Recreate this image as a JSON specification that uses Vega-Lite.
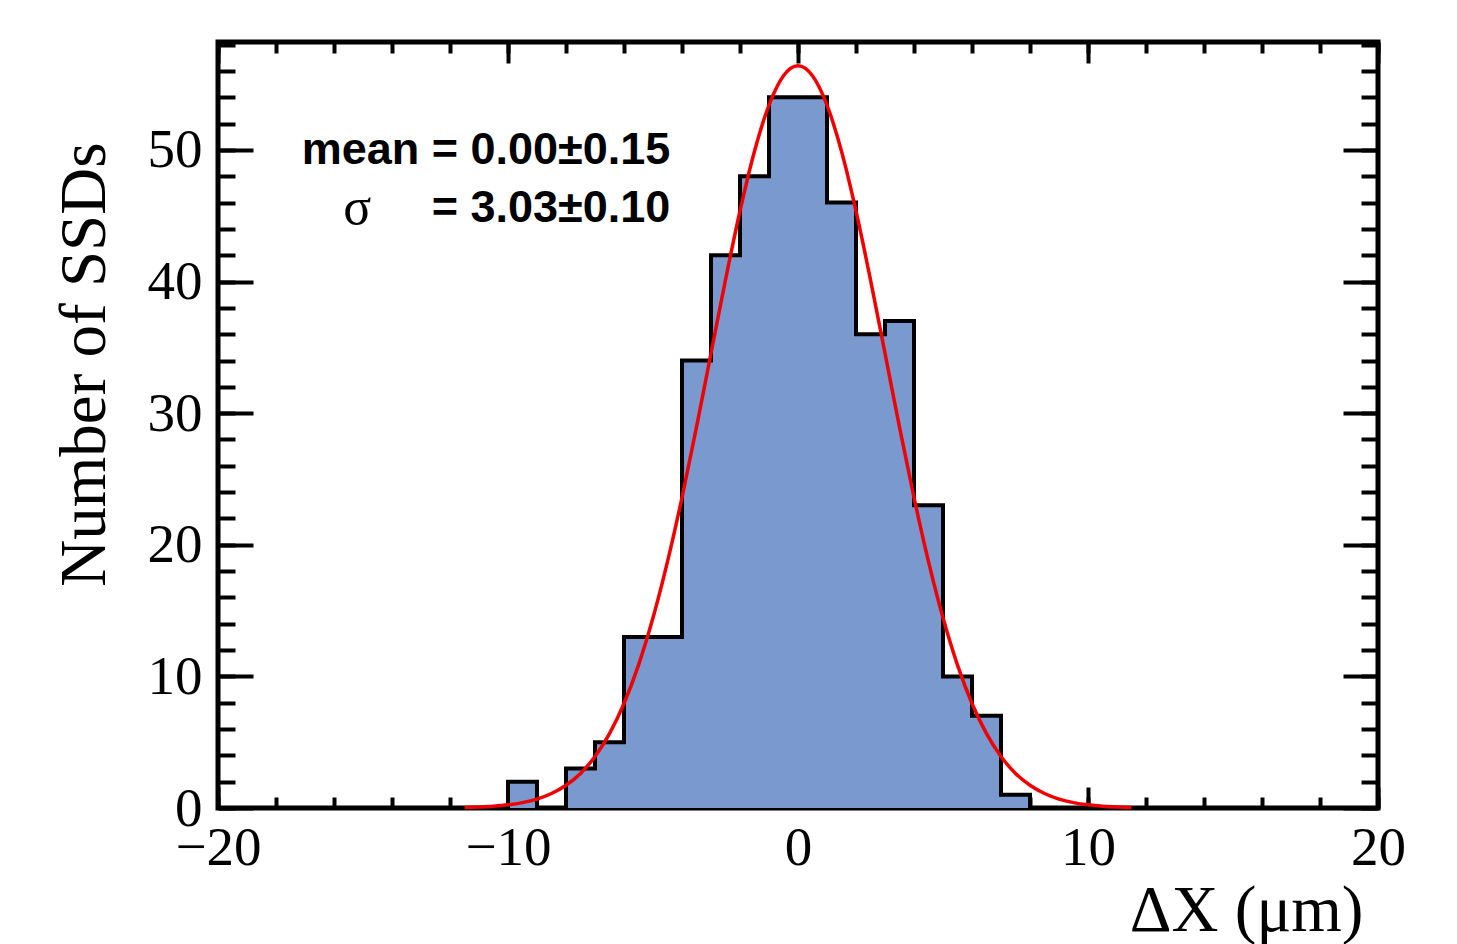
{
  "$schema": "https://vega.github.io/schema/vega-lite/v6.json",
  "width": 1160,
  "height": 766,
  "autosize": {"type": "none"},
  "padding": {"left": 218, "top": 42, "right": 79, "bottom": 136},
  "background": "white",
  "config": {
    "axis": {"grid": false, "domain": false, "tickColor": "black", "labelColor": "black", "titleColor": "black", "zindex": 1},
    "view": {"stroke": "black", "strokeWidth": 5}
  },
  "datasets": {
    "hist": [
      {"x": -20, "count": 0}, {"x": -19, "count": 0}, {"x": -18, "count": 0}, {"x": -17, "count": 0},
      {"x": -16, "count": 0}, {"x": -15, "count": 0}, {"x": -14, "count": 0}, {"x": -13, "count": 0},
      {"x": -12, "count": 0}, {"x": -11, "count": 0}, {"x": -10, "count": 2}, {"x": -9, "count": 0},
      {"x": -8, "count": 3}, {"x": -7, "count": 5}, {"x": -6, "count": 13}, {"x": -5, "count": 13},
      {"x": -4, "count": 34}, {"x": -3, "count": 42}, {"x": -2, "count": 48}, {"x": -1, "count": 54},
      {"x": 0, "count": 54}, {"x": 1, "count": 46}, {"x": 2, "count": 36}, {"x": 3, "count": 37},
      {"x": 4, "count": 23}, {"x": 5, "count": 10}, {"x": 6, "count": 7}, {"x": 7, "count": 1},
      {"x": 8, "count": 0}, {"x": 9, "count": 0}, {"x": 10, "count": 0}, {"x": 11, "count": 0},
      {"x": 12, "count": 0}, {"x": 13, "count": 0}, {"x": 14, "count": 0}, {"x": 15, "count": 0},
      {"x": 16, "count": 0}, {"x": 17, "count": 0}, {"x": 18, "count": 0}, {"x": 19, "count": 0},
      {"x": 20, "count": 0}
    ],
    "curve": [
      {"x": -11.5, "y": 0.04}, {"x": -11, "y": 0.08}, {"x": -10.5, "y": 0.14}, {"x": -10, "y": 0.24},
      {"x": -9.5, "y": 0.41}, {"x": -9, "y": 0.68}, {"x": -8.5, "y": 1.1}, {"x": -8, "y": 1.73},
      {"x": -7.5, "y": 2.63}, {"x": -7, "y": 3.91}, {"x": -6.5, "y": 5.65}, {"x": -6, "y": 7.94},
      {"x": -5.5, "y": 10.86}, {"x": -5, "y": 14.45}, {"x": -4.5, "y": 18.72}, {"x": -4, "y": 23.59},
      {"x": -3.5, "y": 28.94}, {"x": -3, "y": 34.55}, {"x": -2.5, "y": 40.13}, {"x": -2, "y": 45.36},
      {"x": -1.5, "y": 49.9}, {"x": -1, "y": 53.41}, {"x": -0.5, "y": 55.64}, {"x": 0, "y": 56.4},
      {"x": 0.5, "y": 55.64}, {"x": 1, "y": 53.41}, {"x": 1.5, "y": 49.9}, {"x": 2, "y": 45.36},
      {"x": 2.5, "y": 40.13}, {"x": 3, "y": 34.55}, {"x": 3.5, "y": 28.94}, {"x": 4, "y": 23.59},
      {"x": 4.5, "y": 18.72}, {"x": 5, "y": 14.45}, {"x": 5.5, "y": 10.86}, {"x": 6, "y": 7.94},
      {"x": 6.5, "y": 5.65}, {"x": 7, "y": 3.91}, {"x": 7.5, "y": 2.63}, {"x": 8, "y": 1.73},
      {"x": 8.5, "y": 1.1}, {"x": 9, "y": 0.68}, {"x": 9.5, "y": 0.41}, {"x": 10, "y": 0.24},
      {"x": 10.5, "y": 0.14}, {"x": 11, "y": 0.08}, {"x": 11.5, "y": 0.04}
    ],
    "stats": [
      {"x": -4.4, "y": 50.0, "label": "mean = 0.00±0.15"},
      {"x": -4.4, "y": 45.6, "label": "= 3.03±0.10"}
    ],
    "sigma": [
      {"x": -15.2, "y": 45.6, "label": "σ"}
    ]
  },
  "resolve": {"axis": {"x": "independent", "y": "independent"}},
  "layer": [
    {
      "data": {"name": "hist"},
      "mark": {"type": "area", "interpolate": "step-after", "color": "#7a99cf", "opacity": 1},
      "encoding": {
        "x": {"field": "x", "type": "quantitative",
          "scale": {"domain": [-20, 20], "nice": false, "zero": false},
          "axis": {"orient": "bottom", "values": [-20, -10, 0, 10, 20], "ticks": false,
            "labelFont": "Liberation Serif", "labelFontSize": 55, "labelPadding": 13,
            "labelFlush": false, "labelOverlap": false,
            "title": "ΔX (μm)", "titleFont": "Liberation Serif", "titleFontSize": 65, "titleFontWeight": "normal",
            "titleAlign": "right", "titleBaseline": "alphabetic", "titleAnchor": "end", "titleX": 1145, "titleY": 122}},
        "y": {"field": "count", "type": "quantitative",
          "scale": {"domain": [0, 58.2], "nice": false, "zero": true},
          "axis": {"orient": "left", "values": [0, 10, 20, 30, 40, 50], "ticks": false,
            "labelFont": "Liberation Serif", "labelFontSize": 55, "labelPadding": 16,
            "labelFlush": false, "labelOverlap": false,
            "title": "Number of SSDs", "titleFont": "Liberation Serif", "titleFontSize": 65, "titleFontWeight": "normal",
            "titleAngle": -90, "titleAlign": "right", "titleBaseline": "alphabetic", "titleAnchor": "end", "titleX": -114, "titleY": 100}}
      }
    },
    {
      "data": {"name": "hist"},
      "mark": {"type": "line", "interpolate": "step-after", "color": "black", "strokeWidth": 4},
      "encoding": {
        "x": {"field": "x", "type": "quantitative",
          "axis": {"orient": "bottom", "values": [-20, -10, 0, 10, 20], "labels": false, "title": null,
            "tickSize": -21, "tickWidth": 4}},
        "y": {"field": "count", "type": "quantitative",
          "axis": {"orient": "left", "values": [0, 10, 20, 30, 40, 50], "labels": false, "title": null,
            "tickSize": -35, "tickWidth": 4}}
      }
    },
    {
      "data": {"name": "curve"},
      "mark": {"type": "line", "interpolate": "monotone", "color": "#f00000", "strokeWidth": 3.5},
      "encoding": {
        "x": {"field": "x", "type": "quantitative",
          "axis": {"orient": "bottom", "values": [-20, -18, -16, -14, -12, -10, -8, -6, -4, -2, 0, 2, 4, 6, 8, 10, 12, 14, 16, 18, 20],
            "labels": false, "title": null, "tickSize": -11, "tickWidth": 4}},
        "y": {"field": "y", "type": "quantitative",
          "axis": {"orient": "left", "values": [0, 2, 4, 6, 8, 10, 12, 14, 16, 18, 20, 22, 24, 26, 28, 30, 32, 34, 36, 38, 40, 42, 44, 46, 48, 50, 52, 54, 56, 58],
            "labels": false, "title": null, "tickSize": -17, "tickWidth": 4}}
      }
    },
    {
      "data": {"name": "stats"},
      "mark": {"type": "text", "align": "right", "baseline": "middle", "font": "Liberation Sans", "fontWeight": "bold", "fontSize": 45, "color": "black"},
      "encoding": {
        "x": {"field": "x", "type": "quantitative",
          "axis": {"orient": "top", "values": [-20, -10, 0, 10, 20], "labels": false, "title": null,
            "tickSize": -21, "tickWidth": 4}},
        "y": {"field": "y", "type": "quantitative",
          "axis": {"orient": "right", "values": [0, 10, 20, 30, 40, 50], "labels": false, "title": null,
            "tickSize": -35, "tickWidth": 4}},
        "text": {"field": "label"}
      }
    },
    {
      "data": {"name": "sigma"},
      "mark": {"type": "text", "align": "center", "baseline": "middle", "font": "Liberation Serif", "fontSize": 52, "color": "black"},
      "encoding": {
        "x": {"field": "x", "type": "quantitative",
          "axis": {"orient": "top", "values": [-20, -18, -16, -14, -12, -10, -8, -6, -4, -2, 0, 2, 4, 6, 8, 10, 12, 14, 16, 18, 20],
            "labels": false, "title": null, "tickSize": -11, "tickWidth": 4}},
        "y": {"field": "y", "type": "quantitative",
          "axis": {"orient": "right", "values": [0, 2, 4, 6, 8, 10, 12, 14, 16, 18, 20, 22, 24, 26, 28, 30, 32, 34, 36, 38, 40, 42, 44, 46, 48, 50, 52, 54, 56, 58],
            "labels": false, "title": null, "tickSize": -17, "tickWidth": 4}},
        "text": {"field": "label"}
      }
    }
  ]
}
